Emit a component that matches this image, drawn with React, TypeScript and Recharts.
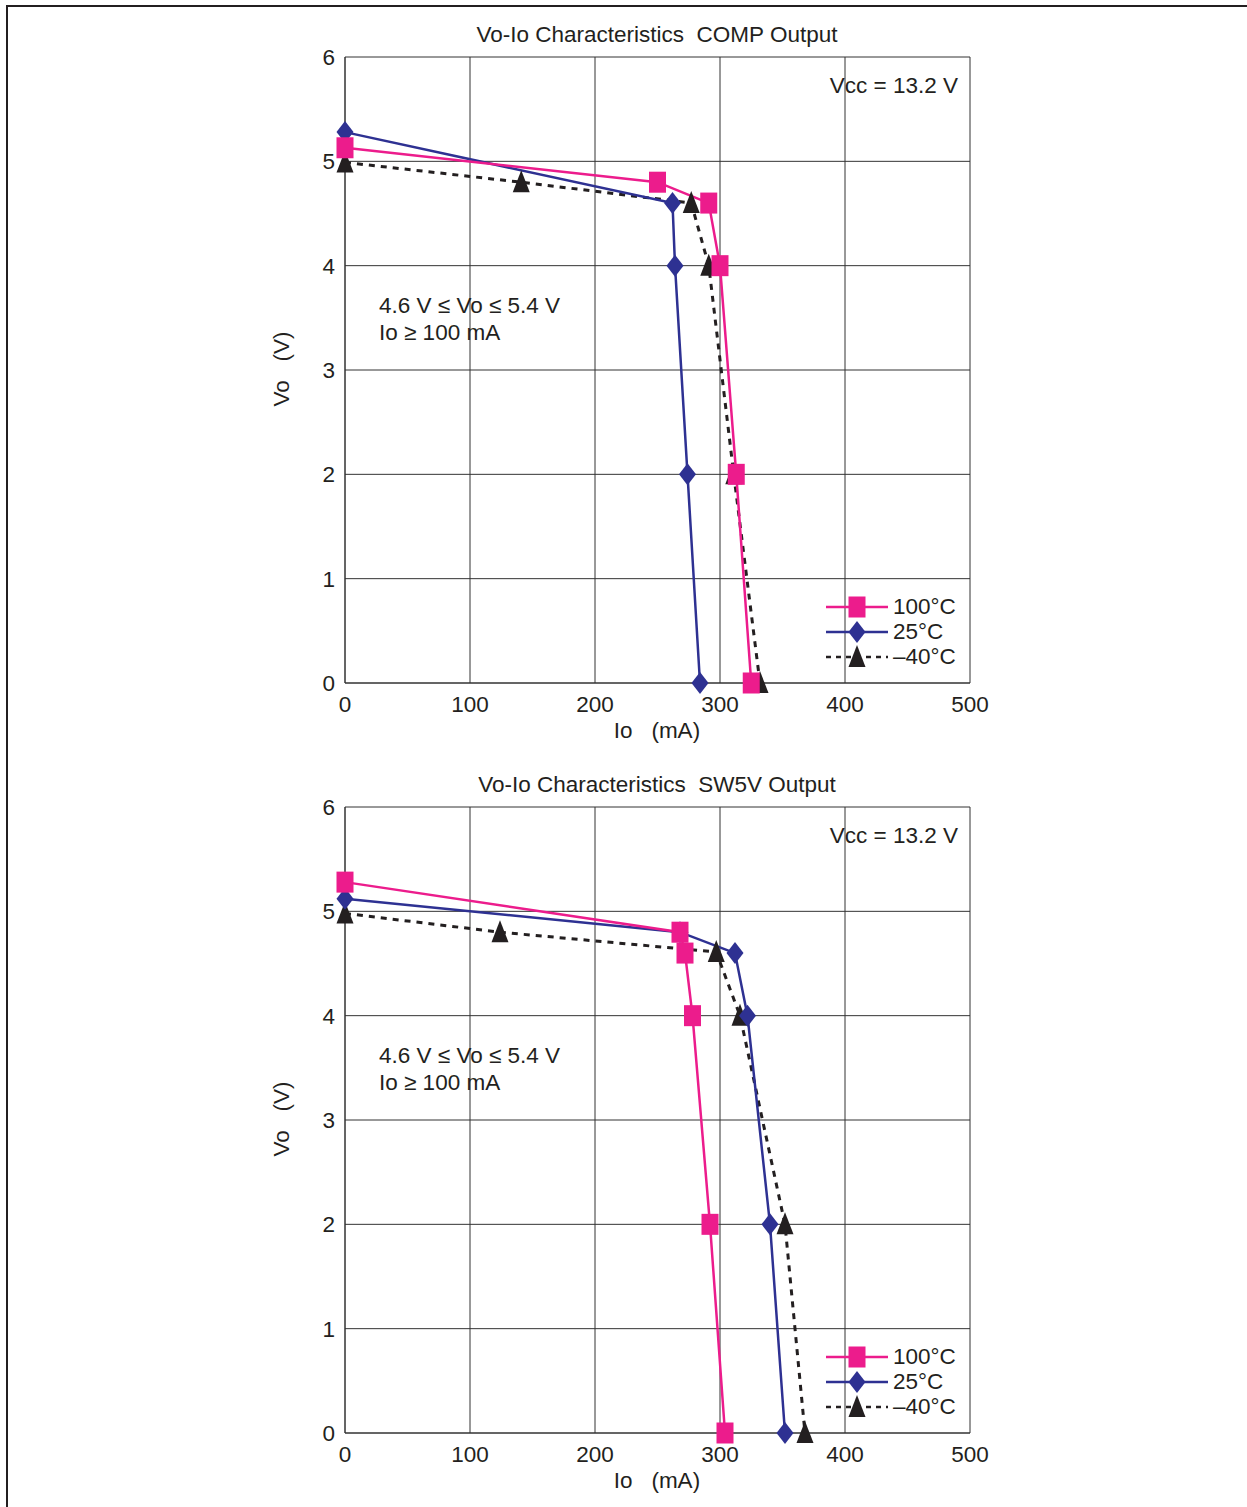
import React from "react";
import { LineChart, Line, XAxis, YAxis, CartesianGrid } from "recharts";

const ioTicks = [0, 100, 200, 300, 400, 500];
const voTicks = [0, 1, 2, 3, 4, 5, 6];

// [Io mA, Vo V]
const comp100 = [[0, 5.13], [250, 4.8], [291, 4.6], [300, 4.0], [313, 2.0], [325, 0]];
const comp25 = [[0, 5.28], [262, 4.6], [264, 4.0], [274, 2.0], [284, 0]];
const compM40 = [[0, 4.99], [141, 4.8], [277, 4.6], [291, 4.0], [311, 2.0], [332, 0]];

const sw100 = [[0, 5.28], [268, 4.8], [272, 4.6], [278, 4.0], [292, 2.0], [304, 0]];
const sw25 = [[0, 5.12], [268, 4.8], [312, 4.6], [322, 4.0], [340, 2.0], [352, 0]];
const swM40 = [[0, 4.98], [124, 4.8], [297, 4.61], [316, 4.0], [352, 2.0], [368, 0]];

const legendNames = ["100°C", "25°C", "\u201340°C"];

const PINK = "#ec1c8c";
const BLUE = "#2e3192";
const BLACK = "#231f20";
const GRID = "#333";
const FONT = '"Liberation Sans", Arial, sans-serif';
const FS = 22.5;

const toRows = (a: number[][]) => a.map(([io, vo]) => ({ io, vo }));

function Marker({ kind, cx, cy }: { kind: string; cx: number; cy: number }) {
  if (kind === "square")
    return <rect x={cx - 8.5} y={cy - 10.5} width={17} height={21} fill={PINK} />;
  if (kind === "diamond")
    return <polygon points={`${cx},${cy - 11} ${cx + 8.5},${cy} ${cx},${cy + 11} ${cx - 8.5},${cy}`} fill={BLUE} />;
  return <polygon points={`${cx},${cy - 12} ${cx + 8.5},${cy + 10} ${cx - 8.5},${cy + 10}`} fill={BLACK} />;
}

const dotOf = (kind: string) => (p: any) =>
  <Marker key={`${kind}-${p.index}`} kind={kind} cx={p.cx} cy={p.cy} />;

const txt: React.CSSProperties = {
  position: "absolute",
  fontFamily: FONT,
  fontSize: FS,
  color: BLACK,
  whiteSpace: "pre",
  lineHeight: 1,
};

function Legend() {
  const rows = [
    { kind: "square", color: PINK, dash: undefined, width: 2.5 },
    { kind: "diamond", color: BLUE, dash: undefined, width: 2.5 },
    { kind: "triangle", color: BLACK, dash: "5 5", width: 2.5 },
  ];
  return (
    <>
      {rows.map((r, i) => (
        <div key={i} style={{ position: "absolute", left: 826, top: 595 + i * 25, height: 24, display: "flex", alignItems: "center" }}>
          <svg width={64} height={24}>
            <line x1={0} x2={62} y1={12} y2={12} stroke={r.color} strokeWidth={r.width} strokeDasharray={r.dash} />
            <Marker kind={r.kind} cx={31} cy={12} />
          </svg>
          <span style={{ fontFamily: FONT, fontSize: FS, color: BLACK, marginLeft: 3, lineHeight: 1 }}>{legendNames[i]}</span>
        </div>
      ))}
    </>
  );
}

function Panel({ top, title, s100, s25, sM40 }: { top: number; title: string; s100: number[][]; s25: number[][]; sM40: number[][] }) {
  const tick = { fontSize: FS, fill: BLACK, fontFamily: FONT };
  return (
    <div style={{ position: "absolute", left: 0, top, width: 1247, height: 750 }}>
      <LineChart width={1247} height={750} margin={{ top: 57, right: 277, bottom: 27, left: 285 }}>
        <CartesianGrid stroke={GRID} strokeWidth={1} />
        <XAxis
          dataKey="io"
          type="number"
          domain={[0, 500]}
          ticks={ioTicks}
          interval={0}
          height={40}
          tick={tick}
          tickLine={false}
          tickSize={0}
          tickMargin={13}
          axisLine={{ stroke: GRID }}
        />
        <YAxis
          dataKey="vo"
          type="number"
          domain={[0, 6]}
          ticks={voTicks}
          interval={0}
          width={60}
          tick={tick}
          tickLine={false}
          tickSize={0}
          tickMargin={10}
          axisLine={{ stroke: GRID }}
        />
        <Line data={toRows(sM40)} dataKey="vo" type="linear" stroke={BLACK} strokeWidth={3} strokeDasharray="6 6"
          dot={dotOf("triangle")} activeDot={false} isAnimationActive={false} />
        <Line data={toRows(s25)} dataKey="vo" type="linear" stroke={BLUE} strokeWidth={2.5} dot={dotOf("diamond")}
          activeDot={false} isAnimationActive={false} />
        <Line data={toRows(s100)} dataKey="vo" type="linear" stroke={PINK} strokeWidth={2.5} dot={dotOf("square")}
          activeDot={false} isAnimationActive={false} />
      </LineChart>
      <div style={{ ...txt, left: 657, top: 35, transform: "translate(-50%, -50%)" }}>{title}</div>
      <div style={{ ...txt, right: 1247 - 958, top: 75 }}>Vcc = 13.2 V</div>
      <div style={{ ...txt, left: 379, top: 295 }}>4.6 V ≤ Vo ≤ 5.4 V</div>
      <div style={{ ...txt, left: 379, top: 322 }}>Io ≥ 100 mA</div>
      <div style={{ ...txt, left: 282, top: 369, transform: "translate(-50%, -50%) rotate(-90deg)" }}>Vo   (V)</div>
      <div style={{ ...txt, left: 657, top: 731, transform: "translate(-50%, -50%)" }}>Io   (mA)</div>
      <Legend />
    </div>
  );
}

export default function App() {
  return (
    <div style={{ position: "absolute", left: 0, top: 0, width: 1247, height: 1507, background: "#fff", overflow: "hidden" }}>
      <div style={{ position: "absolute", left: 6, top: 5, width: 1241, height: 1502, borderTop: `2px solid ${BLACK}`, borderLeft: `2px solid ${BLACK}` }} />
      <Panel top={0} title="Vo-Io Characteristics  COMP Output" s100={comp100} s25={comp25} sM40={compM40} />
      <Panel top={750} title="Vo-Io Characteristics  SW5V Output" s100={sw100} s25={sw25} sM40={swM40} />
    </div>
  );
}
